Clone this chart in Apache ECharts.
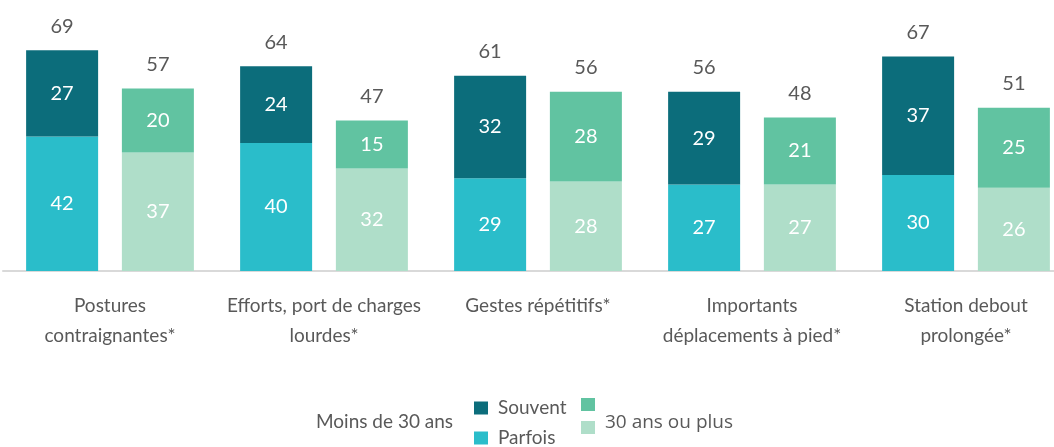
<!DOCTYPE html>
<html>
<head>
<meta charset="UTF-8">
<title></title>
<script src="https://cdn.jsdelivr.net/npm/echarts@6/dist/echarts.min.js"></script>
<style>
  html, body { margin: 0; padding: 0; background: #fff; overflow: hidden; }
</style>
</head>
<body>
<!-- le graphique déborde un peu à droite, comme l'original -->
<div id="main" style="width: 1080px;height:447px;"></div>
<script type="text/javascript">
var categories = ['Postures\ncontraignantes*', 'Efforts, port de charges\nlourdes*', 'Gestes répétitifs*', 'Importants\ndéplacements à pied*', 'Station debout\nprolongée*'];
// moins de 30 ans
var parfoisJeunes = [42, 40, 29, 27, 30];
var souventJeunes = [27, 24, 32, 29, 37];
// 30 ans ou plus
var parfoisAines = [37, 32, 28, 27, 26];
var souventAines = [20, 15, 28, 21, 25];

var totalJeunes = parfoisJeunes.map(function (v, i) { return v + souventJeunes[i]; });
var totalAines = parfoisAines.map(function (v, i) { return v + souventAines[i]; });

var grey = '#595959';
var font = 'Lato';

var inLabel = { show: true, position: 'inside', color: '#fff', fontSize: 20, fontFamily: font };
function topLabel(totals) {
  return {
    show: true, position: 'top', distance: 14, color: grey, fontSize: 20, fontFamily: font,
    formatter: function (p) { return totals[p.dataIndex]; }
  };
}

var option = {
  animation: false,
  grid: { left: 3, width: 1070, top: 15, height: 256 },
  xAxis: {
    type: 'category',
    data: categories,
    axisTick: { show: false },
    axisLine: { lineStyle: { color: '#d9d9d9', width: 2 } },
    axisLabel: { color: grey, fontSize: 19, fontFamily: font, lineHeight: 30, margin: 20, interval: 0 }
  },
  yAxis: { type: 'value', min: 0, max: 80, show: false, splitLine: { show: false } },
  legend: [{
    orient: 'vertical', left: 469, top: 393, height: 80, itemWidth: 14, itemHeight: 13, itemGap: 10,
    selectedMode: false, icon: 'rect',
    textStyle: { color: grey, fontSize: 19, fontFamily: font, lineHeight: 20, padding: [0, 0, 0, 5] },
    data: ['Souvent', 'Parfois']
  }, {
    orient: 'vertical', left: 576, top: 393, height: 80, itemWidth: 14, itemHeight: 13, itemGap: 10,
    selectedMode: false, icon: 'rect',
    textStyle: { color: grey, fontSize: 19, fontFamily: font, lineHeight: 20 },
    formatter: function () { return ''; },
    data: ['Souvent ', 'Parfois ']
  }],
  graphic: [{
    type: 'text', left: 316, top: 412,
    style: { text: 'Moins de 30 ans', fill: grey, fontSize: 19, fontFamily: font }
  }, {
    type: 'text', left: 605, top: 413,
    style: { text: '30 ans ou plus', fill: grey, fontSize: 19, fontFamily: 'Open Sans' }
  }],
  series: [{
    name: 'Parfois', type: 'bar', stack: 'jeunes', barWidth: 72, barGap: '33%',
    itemStyle: { color: '#2abdca' }, label: inLabel, data: parfoisJeunes
  }, {
    name: 'Souvent', type: 'bar', stack: 'jeunes', barWidth: 72, barGap: '33%',
    itemStyle: { color: '#0c6d7b' }, label: inLabel, data: souventJeunes
  }, {
    name: 'jeunesTotal', type: 'bar', stack: 'jeunes', barWidth: 72, barGap: '33%',
    itemStyle: { color: 'transparent' }, label: topLabel(totalJeunes),
    data: totalJeunes.map(function () { return 0; })
  }, {
    name: 'Parfois ', type: 'bar', stack: 'aines', barWidth: 72, barGap: '33%',
    itemStyle: { color: '#afdec9' }, label: inLabel, data: parfoisAines
  }, {
    name: 'Souvent ', type: 'bar', stack: 'aines', barWidth: 72, barGap: '33%',
    itemStyle: { color: '#61c3a1' }, label: inLabel, data: souventAines
  }, {
    name: 'ainesTotal', type: 'bar', stack: 'aines', barWidth: 72, barGap: '33%',
    itemStyle: { color: 'transparent' }, label: topLabel(totalAines),
    data: totalAines.map(function () { return 0; })
  }]
};

echarts.init(document.getElementById('main')).setOption(option);
</script>
</body>
</html>
